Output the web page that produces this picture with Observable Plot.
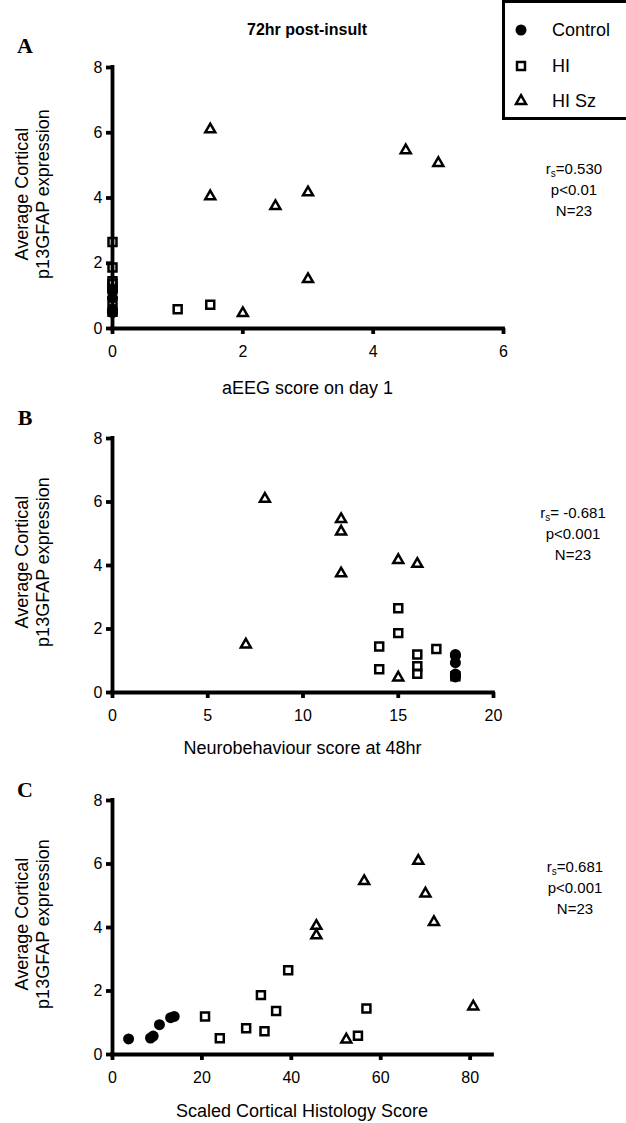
<!DOCTYPE html>
<html><head><meta charset="utf-8">
<script src="https://cdn.jsdelivr.net/npm/d3@7"></script>
<script src="https://cdn.jsdelivr.net/npm/@observablehq/plot@0.6"></script>
<style>
body{margin:0;background:#fff;}
#root{position:relative;width:626px;height:1123px;overflow:hidden;background:#fff;font-family:"Liberation Sans",Arial,sans-serif;color:#000;}
.abs{position:absolute;white-space:nowrap;}
.c{transform:translate(-50%,-50%);}
.rot{transform:translate(-50%,-50%) rotate(-90deg);text-align:center;}
.letter{font-family:"Liberation Serif","Times New Roman",serif;font-weight:bold;font-size:22px;line-height:1;}
.stat{font-size:15px;text-align:center;line-height:21px;}
.stat sub{font-size:10px;vertical-align:-3px;line-height:0;}
</style></head><body><div id="root"></div>
<script>
// ---- data ----
const groups = ["Control", "HI", "HI Sz"];

const controlExpr = [0.49, 0.52, 0.58, 0.94, 1.16, 1.20];
const controlAEEG = [0, 0, 0, 0, 0, 0];
const controlNeuro = [18, 18, 18, 18, 18, 18];
const controlHisto = [3.6, 8.5, 9.1, 10.5, 13.0, 13.8];

const hiExpr = [2.65, 1.87, 1.45, 1.37, 1.20, 0.83, 0.73, 0.59, 0.51];
const hiAEEG = [0, 0, 0, 0, 0, 0, 1.5, 1, 0];
const hiNeuro = [15, 15, 14, 17, 16, 16, 14, 16, 18];
const hiHisto = [39.3, 33.2, 56.8, 36.6, 20.7, 29.9, 34.0, 54.9, 24.0];

const hiszExpr = [6.10, 5.46, 5.07, 4.17, 4.05, 3.75, 1.51, 0.47];
const hiszAEEG = [1.5, 4.5, 5, 3, 1.5, 2.5, 3, 2];
const hiszNeuro = [8, 12, 12, 15, 16, 12, 7, 15];
const hiszHisto = [68.4, 56.3, 70.0, 71.9, 45.6, 45.6, 80.7, 52.3];

const yTicks = [0, 2, 4, 6, 8];
const aTicks = [0, 2, 4, 6];
const bTicks = [0, 5, 10, 15, 20];
const cTicks = [0, 20, 40, 60, 80];

const yTitle = ["Average Cortical", "p13GFAP expression"];
const stats = [
  ["=0.530", "p<0.01", "N=23"],
  ["= -0.681", "p<0.001", "N=23"],
  ["=0.681", "p<0.001", "N=23"]
];

// ---- build tables ----
function rows(group, expr, aeeg, neuro, histo) {
  return expr.map((v, i) => ({group, expr: v, aeeg: aeeg[i], neuro: neuro[i], histo: histo[i]}));
}
const control = rows("Control", controlExpr, controlAEEG, controlNeuro, controlHisto);
const hi = rows("HI", hiExpr, hiAEEG, hiNeuro, hiHisto);
const hisz = rows("HI Sz", hiszExpr, hiszAEEG, hiszNeuro, hiszHisto);

const root = document.getElementById("root");
const FONT = '"Liberation Sans", Arial, sans-serif';

function addText(html, x, y, cls, extraStyle) {
  const d = document.createElement("div");
  d.className = "abs " + (cls || "c");
  d.style.left = x + "px";
  d.style.top = y + "px";
  if (extraStyle) Object.assign(d.style, extraStyle);
  d.innerHTML = html;
  root.appendChild(d);
  return d;
}

const SQ_R = 4.5, TRI_R = 3.7, CIR_R = 5.5, SW = 2.5, AXW = 3.8;

function panel({top, height, mt, mb, mr, key, domain, ticks}) {
  const chart = Plot.plot({
    width: 626, height,
    marginLeft: 112, marginRight: mr, marginTop: mt, marginBottom: mb,
    style: {fontFamily: FONT, fontSize: "16px", background: "transparent", color: "black", overflow: "visible"},
    x: {domain},
    y: {domain: [0, 8]},
    marks: [
      Plot.ruleX([domain[0]], {y1: 0, y2: 8, stroke: "black", strokeWidth: AXW, strokeLinecap: "square"}),
      Plot.ruleY([0], {x1: domain[0], x2: domain[1], stroke: "black", strokeWidth: AXW, strokeLinecap: "square"}),
      Plot.axisX({ticks, tickSize: 6, tickPadding: 11, stroke: "black", strokeWidth: AXW, label: null, fontSize: 16, tickFormat: d => String(d)}),
      Plot.axisY({ticks: yTicks, tickSize: 6, tickPadding: 4, stroke: "black", strokeWidth: AXW, label: null, fontSize: 16, tickFormat: d => String(d)}),
      Plot.dot(control, {x: key, y: "expr", symbol: "circle", r: CIR_R, fill: "black", stroke: null}),
      Plot.dot(hi, {x: key, y: "expr", symbol: "square", r: SQ_R, fill: "none", stroke: "black", strokeWidth: SW}),
      Plot.dot(hisz, {x: key, y: "expr", symbol: "triangle", r: TRI_R, fill: "none", stroke: "black", strokeWidth: SW})
    ]
  });
  const wrap = document.createElement("div");
  wrap.className = "abs";
  wrap.style.left = "0px";
  wrap.style.top = top + "px";
  wrap.appendChild(chart);
  root.appendChild(wrap);
}

// Panel A
panel({top: 0, height: 400, mt: 67, mb: 72, mr: 123, key: "aeeg", domain: [0, 6], ticks: aTicks});
// Panel B
panel({top: 400, height: 360, mt: 38, mb: 68, mr: 133, key: "neuro", domain: [0, 20], ticks: bTicks});
// Panel C
panel({top: 760, height: 363, mt: 40, mb: 69, mr: 134, key: "histo", domain: [0, 85], ticks: cTicks});

// titles and labels
addText("72hr post-insult", 307, 30, "c", {fontSize: "16px", fontWeight: "bold"});
addText("A", 25, 46, "c letter");
addText("B", 25, 418, "c letter");
addText("C", 25, 790, "c letter");

const xTitles = [
  ["aEEG score on day 1", 307.5, 388],
  ["Neurobehaviour score at 48hr", 302.5, 748],
  ["Scaled Cortical Histology Score", 302, 1111]
];
xTitles.forEach(([t, x, y]) => addText(t, x, y, "c", {fontSize: "18px", lineHeight: "1"}));

[194, 562, 924].forEach(y => {
  addText(yTitle.join("<br>"), 33, y, "rot", {fontSize: "18px", lineHeight: "21px"});
});

const statPos = [[574, 189], [573, 533], [575, 887]];
stats.forEach((s, i) => {
  addText("r<sub>s</sub>" + s[0] + "<br>" + s[1] + "<br>" + s[2], statPos[i][0], statPos[i][1], "c stat");
});

// legend
const leg = document.createElement("div");
leg.className = "abs";
Object.assign(leg.style, {left: "502px", top: "0px", width: "130px", height: "120px", border: "3px solid black", boxSizing: "border-box"});
root.appendChild(leg);
const legSym = {
  "Control": '<circle cx="10" cy="10" r="' + CIR_R + '" fill="black"/>',
  "HI": '<path d="' + d3.symbol(d3.symbolSquare, Math.PI * SQ_R * SQ_R)() + '" transform="translate(10,10)" fill="none" stroke="black" stroke-width="' + SW + '"/>',
  "HI Sz": '<path d="' + d3.symbol(d3.symbolTriangle, Math.PI * TRI_R * TRI_R)() + '" transform="translate(10,10)" fill="none" stroke="black" stroke-width="' + SW + '"/>'
};
const legY = [30, 66, 101];
groups.forEach((g, i) => {
  addText('<svg width="20" height="20">' + legSym[g] + '</svg>', 521, legY[i], "c", {lineHeight: "0"});
  addText(g, 552, legY[i], "abs", {fontSize: "18px", transform: "translateY(-50%)"});
});
</script></body></html>
